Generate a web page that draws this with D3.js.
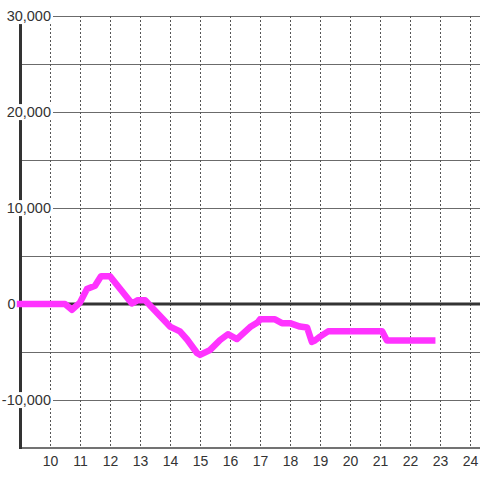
<!DOCTYPE html>
<html>
<head>
<meta charset="utf-8">
<script src="https://cdn.jsdelivr.net/npm/d3@7"></script>
<style>
  html, body { margin: 0; padding: 0; background: #fff; }
  svg { display: block; }
  text { font-family: "Liberation Sans", Arial, sans-serif; }
</style>
</head>
<body>
<svg id="chart" width="480" height="480"></svg>
<script>
// Data (time in decimal hours, value)
const hours = [9, 10.5, 10.73, 11, 11.23, 11.5, 11.7, 12, 12.73, 12.93, 13.17,
  14, 14.33, 14.57, 14.9, 15, 15.33, 15.67, 15.93, 16.23, 16.67, 16.93, 17, 17.5,
  17.73, 18, 18.33, 18.57, 18.73, 18.83, 19, 19.27, 21.07, 21.23, 22.74];
const values = [0, 0, -600, 150, 1550, 1900, 2900, 2900, 50, 400, 400,
  -2350, -2850, -3700, -5100, -5300, -4800, -3750, -3150, -3650, -2400, -1900, -1600, -1600,
  -2000, -2000, -2350, -2450, -3950, -3800, -3400, -2850, -2850, -3800, -3800];
const xTicks = [10, 11, 12, 13, 14, 15, 16, 17, 18, 19, 20, 21, 22, 23, 24];
const yLabelTicks = [30000, 20000, 10000, 0, -10000];
const yGridTicks = [30000, 25000, 20000, 15000, 10000, 5000, -5000, -10000];
const yLabels = ["30,000", "20,000", "10,000", "0", "-10,000"];

const svg = d3.select("#chart");
const x = d3.scaleLinear().domain([9, 24 + 1/3]).range([20, 480]);
const y = d3.scaleLinear().domain([-15000, 30000]).range([448, 16]);

// horizontal gridlines
svg.append("g").selectAll("line").data(yGridTicks).join("line")
  .attr("x1", 20).attr("x2", 480)
  .attr("y1", d => Math.round(y(d)) + 0.5).attr("y2", d => Math.round(y(d)) + 0.5)
  .attr("stroke", "#6b6b6b").attr("stroke-width", 1);

// vertical dashed gridlines
svg.append("g").selectAll("line").data(xTicks).join("line")
  .attr("x1", d => Math.round(x(d)) + 0.5).attr("x2", d => Math.round(x(d)) + 0.5)
  .attr("y1", y(30000)).attr("y2", y(-15000))
  .attr("stroke", "#555").attr("stroke-width", 1).attr("stroke-dasharray", "2,2");

// zero line
svg.append("line")
  .attr("x1", 20).attr("x2", 480).attr("y1", y(0)).attr("y2", y(0))
  .attr("stroke", "#333").attr("stroke-width", 3);

// bottom axis line
svg.append("line")
  .attr("x1", 20).attr("x2", 480).attr("y1", y(-15000)).attr("y2", y(-15000))
  .attr("stroke", "#444").attr("stroke-width", 1.5);

// left axis line
svg.append("line")
  .attr("x1", 20.5).attr("x2", 20.5).attr("y1", y(30000)).attr("y2", y(-15000) + 1)
  .attr("stroke", "#333").attr("stroke-width", 3);

// y labels with white background
const yl = svg.append("g");
yLabelTicks.forEach((v, i) => {
  const g = yl.append("g");
  const t = g.append("text")
    .attr("x", v === 0 ? 15.5 : 51).attr("y", y(v)).attr("dy", "0.35em")
    .attr("text-anchor", "end")
    .attr("font-size", 14.5).attr("fill", "#333")
    .text(yLabels[i]);
  if (v !== 0) {
    const b = t.node().getBBox();
    g.insert("rect", "text")
      .attr("x", b.x - 1).attr("y", b.y).attr("width", b.width + 3).attr("height", b.height)
      .attr("fill", "#fff");
  }
});

// data line
const line = d3.line().x((d, i) => x(hours[i])).y(d => y(d));
svg.append("path").datum(values)
  .attr("d", line)
  .attr("fill", "none")
  .attr("stroke", "#ff33ff")
  .attr("stroke-width", 6.5)
  .attr("stroke-linejoin", "round")
  .attr("stroke-linecap", "square");

// x labels
svg.append("g").selectAll("text").data(xTicks).join("text")
  .attr("x", d => x(d) + 0.5).attr("y", 466)
  .attr("text-anchor", "middle")
  .attr("font-size", 14).attr("fill", "#333")
  .text(d => d);
</script>
</body>
</html>
